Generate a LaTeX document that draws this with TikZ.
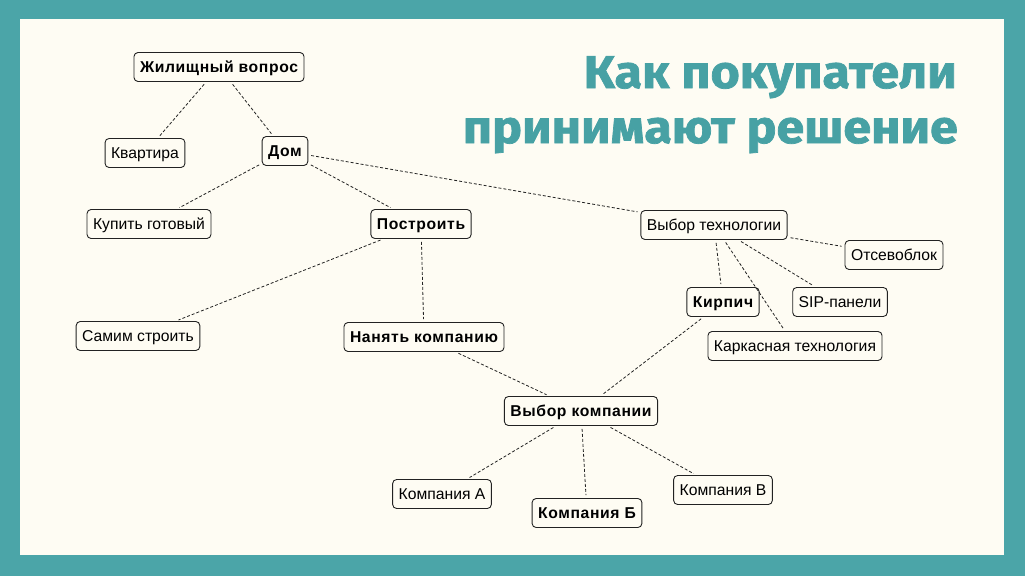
\documentclass[tikz,border=0pt]{standalone}
\usepackage{fontspec}
\setmainfont{Liberation Sans}
\newfontfamily\titlefont{Fira Sans}[FakeStretch=1.09, BoldFeatures={FakeBold=1.6}]
\newfontfamily\labelbold{Liberation Sans}[LetterSpace=4]
\usetikzlibrary{arrows.meta,positioning}
\definecolor{frame}{HTML}{4BA5A8}
\definecolor{paper}{HTML}{FEFCF3}
\definecolor{headline}{HTML}{47A1A4}
\definecolor{edge}{HTML}{222222}

\begin{document}
\begin{tikzpicture}[
  x=1pt, y=-1pt,
  box/.style={rectangle, rounded corners=4pt, draw=edge, line width=0.9pt, fill=paper, align=center, minimum height=29pt, inner xsep=6pt, text height=11.3pt, text depth=0pt, font=\fontsize{15.7}{18}\selectfont},
  boxb/.style={box, font=\labelbold\fontsize{15.7}{18}\selectfont\bfseries},
  link/.style={draw=edge, line width=0.8pt, dash pattern=on 3pt off 2pt, shorten <=3pt, shorten >=3pt},
  headline/.style={text=headline, inner sep=0pt, anchor=base east, font=\titlefont\bfseries\fontsize{46}{55}\selectfont}
]
\fill[frame] (0,0) rectangle (1025,576);
\fill[paper] (20,19) rectangle (1004,555);
\useasboundingbox (0,0) rectangle (1025,576);

\node[headline] (head1) at (957,88) {Как покупатели};
\node[headline] (head2) at (958,143) {принимают решение};

\node[boxb] (housing) at (219,67) {Жилищный вопрос};
\node[box] (flat) at (145,153) {Квартира};
\node[boxb] (house) at (285,151) {Дом};
\node[box] (buy) at (149,224) {Купить готовый};
\node[boxb] (build) at (421,224) {Построить};
\node[box] (tech) at (714,225) {Выбор технологии};
\node[box] (block) at (894,255) {Отсевоблок};
\node[boxb] (brick) at (723,302) {Кирпич};
\node[box] (sip) at (840,302) {SIP-панели};
\node[box] (frametech) at (795,346) {Каркасная технология};
\node[box] (self) at (138,336) {Самим строить};
\node[boxb] (hire) at (424,337) {Нанять компанию};
\node[boxb] (choice) at (581,411) {Выбор компании};
\node[box] (compA) at (442,494) {Компания А};
\node[boxb] (compB) at (587,513) {Компания Б};
\node[box] (compV) at (723,490) {Компания В};

\draw[link] (housing) -- (flat);
\draw[link] (housing) -- (house);
\draw[link] (house) -- (buy);
\draw[link] (house) -- (build);
\draw[link] (house) -- (tech);
\draw[link] (build) -- (self);
\draw[link] (build) -- (hire);
\draw[link] (hire) -- (choice);
\draw[link] (brick) -- (choice);
\draw[link] (tech) -- (block);
\draw[link] (tech) -- (brick);
\draw[link] (tech) -- (frametech);
\draw[link] (tech) -- (sip);
\draw[link] (choice) -- (compA);
\draw[link] (choice) -- (compB);
\draw[link] (choice) -- (compV);
\end{tikzpicture}
\end{document}
